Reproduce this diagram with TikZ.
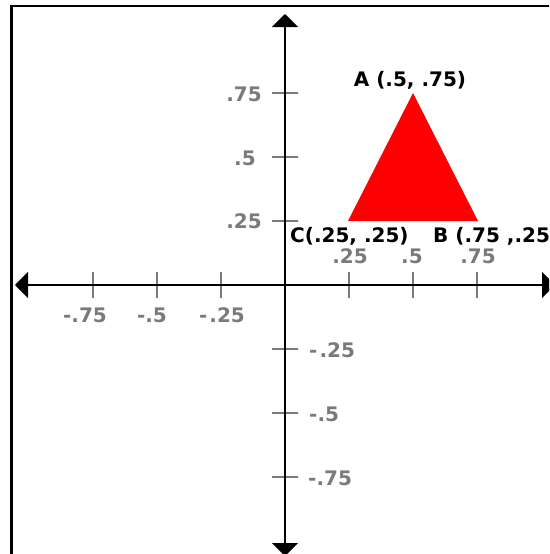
\documentclass[tikz,border=0pt]{standalone}
\usepackage{fontspec}
\setmainfont{DejaVu Sans}
\usetikzlibrary{arrows.meta}
\definecolor{tickgray}{HTML}{7A7A7A}
\tikzset{
  axisline/.style={draw=black, line width=2pt, {Triangle[length=13pt,width=26pt]}-{Triangle[length=13pt,width=26pt]}},
  tickline/.style={draw=tickgray, line width=1.6pt},
  ticklabel/.style={text=tickgray, inner sep=0pt, font=\fontsize{20}{20}\selectfont\bfseries},
  ptlabel/.style={text=black, inner sep=0pt, font=\fontsize{20}{20}\selectfont\bfseries},
  frameline/.style={draw=black, line width=2.2pt},
}
\begin{document}
\begin{tikzpicture}[x=1pt, y=-1pt]
\useasboundingbox (0,0) rectangle (549,554);
\clip (0,0) rectangle (549,554);
\fill[white] (0,0) rectangle (549,554);
% frame
\draw[frameline] (11.5,6) rectangle (620,620);
% triangle
\coordinate (A) at (413,93);
\coordinate (B) at (478,221);
\coordinate (C) at (348,221);
\fill[red] (A) -- (B) -- (C) -- cycle;
% ticks
\foreach \n/\x in {m3/93, m2/157, m1/221, p1/349, p2/413, p3/477}{
  \coordinate (xt\n a) at (\x,272);
  \coordinate (xt\n b) at (\x,298);
  \draw[tickline] (xt\n a) -- (xt\n b);
}
\foreach \n/\y in {p3/93, p2/157, p1/221, m1/349, m2/413, m3/477}{
  \coordinate (yt\n a) at (272,\y);
  \coordinate (yt\n b) at (298,\y);
  \draw[tickline] (yt\n a) -- (yt\n b);
}
% axes
\coordinate (xl) at (15,285);
\coordinate (xr) at (555,285);
\coordinate (yt) at (285,14);
\coordinate (yb) at (285,556);
\draw[axisline] (xl) -- (xr);
\draw[axisline] (yt) -- (yb);
% x labels
\node[ticklabel, anchor=base] (lxp1) at (350,263) {.25};
\node[ticklabel, anchor=base] (lxp2) at (412,263) {.5};
\node[ticklabel, anchor=base] (lxp3) at (478,263) {.75};
\node[ticklabel, anchor=base] (lxm3) at (85,322) {-.75};
\node[ticklabel, anchor=base] (lxm2) at (152,322) {-.5};
\node[ticklabel, anchor=base] (lxm1) at (222,322) {-\kern2pt.25};
% y labels
\node[ticklabel, anchor=base] (lyp3) at (244,101.5) {.75};
\node[ticklabel, anchor=base] (lyp2) at (245,165.5) {.5};
\node[ticklabel, anchor=base] (lyp1) at (244,228.5) {.25};
\node[ticklabel, anchor=base west] (lym1) at (309,357) {-\kern2pt.25};
\node[ticklabel, anchor=base west] (lym2) at (309,421) {-.5};
\node[ticklabel, anchor=base west] (lym3) at (308,485) {-.75};
% point labels
\node[ptlabel, anchor=base] (la) at (410,86) {A (.5, .75)};
\node[ptlabel, anchor=base west] (lc) at (290,242) {C(.25, .25)};
\node[ptlabel, anchor=base west] (lb) at (433,242) {B (.75 ,.25)};
\end{tikzpicture}
\end{document}
